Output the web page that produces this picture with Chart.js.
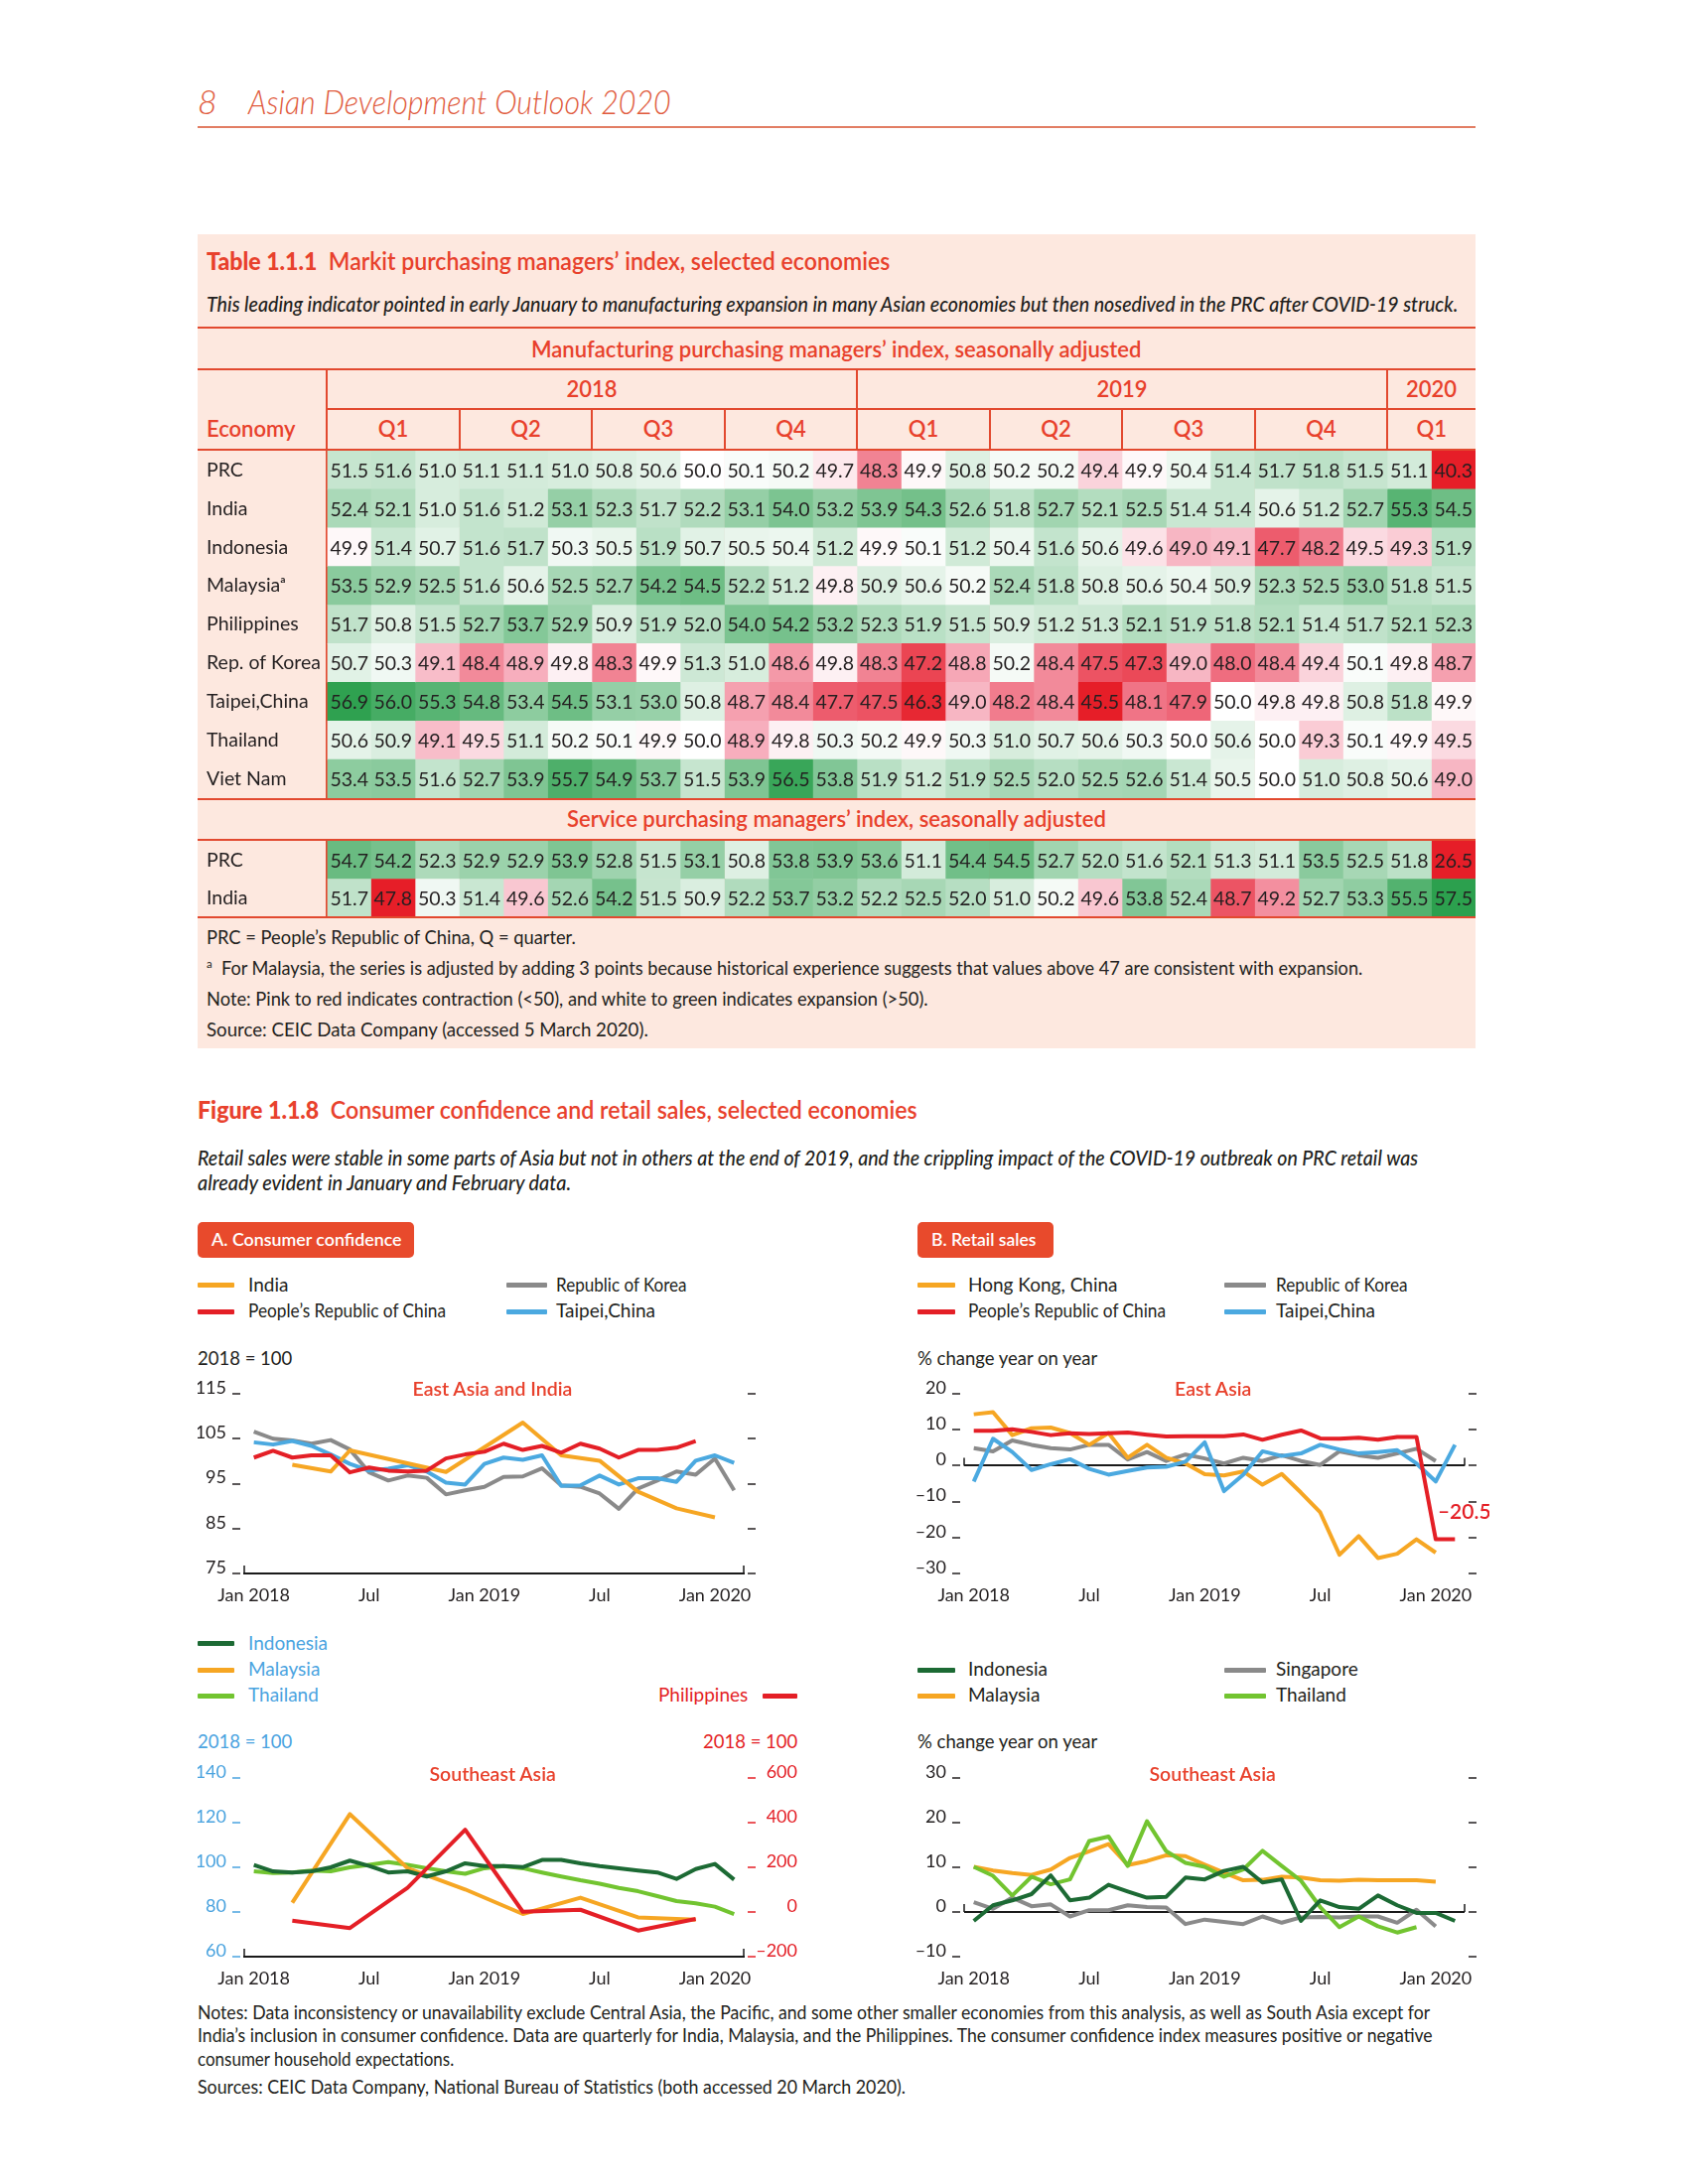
<!DOCTYPE html>
<html>
<head>
<meta charset="utf-8">
<title>Asian Development Outlook 2020 - page 8</title>
<script src="https://cdn.jsdelivr.net/npm/chart.js@4.4.1/dist/chart.umd.min.js"></script>
<style>
  body { margin: 0; background: #fff; }
  #page { position: relative; width: 1700px; height: 2200px; overflow: hidden; font-family: Lato, 'Noto Sans', sans-serif; color: #231f20; }
  .t { position: absolute; white-space: nowrap; line-height: 1; }
  .box { position: absolute; }
  canvas { position: absolute; }
</style>
</head>
<body>
<div id="page">
  <div class="box" style="left:199px;top:236px;width:1287px;height:820px;background:#fde8df"></div>
  <canvas id="pmiMfg" width="1287" height="350" style="left:199px;top:454px"></canvas>
  <canvas id="pmiSvc" width="1287" height="77" style="left:199px;top:847px"></canvas>
  <canvas id="chartA" width="565" height="240" style="left:199px;top:1385px"></canvas>
  <canvas id="chartB" width="595" height="240" style="left:905px;top:1385px"></canvas>
  <canvas id="chartC" width="604" height="240" style="left:199px;top:1772px"></canvas>
  <canvas id="chartD" width="595" height="240" style="left:905px;top:1772px"></canvas>
</div>
<script>
// months shared by the table columns and the four panels
const months = ['Jan 2018', 'Feb 2018', 'Mar 2018', 'Apr 2018', 'May 2018', 'Jun 2018', 'Jul 2018', 'Aug 2018', 'Sep 2018', 'Oct 2018', 'Nov 2018', 'Dec 2018',
  'Jan 2019', 'Feb 2019', 'Mar 2019', 'Apr 2019', 'May 2019', 'Jun 2019', 'Jul 2019', 'Aug 2019', 'Sep 2019', 'Oct 2019', 'Nov 2019', 'Dec 2019',
  'Jan 2020', 'Feb 2020'];

// Table 1.1.1 - manufacturing PMI
const economies = ['PRC', 'India', 'Indonesia', 'Malaysiaᵃ', 'Philippines', 'Rep. of Korea', 'Taipei,China', 'Thailand', 'Viet Nam'];
const pmiPRC = [51.5, 51.6, 51.0, 51.1, 51.1, 51.0, 50.8, 50.6, 50.0, 50.1, 50.2, 49.7, 48.3, 49.9, 50.8, 50.2, 50.2, 49.4, 49.9, 50.4, 51.4, 51.7, 51.8, 51.5, 51.1, 40.3];
const pmiIndia = [52.4, 52.1, 51.0, 51.6, 51.2, 53.1, 52.3, 51.7, 52.2, 53.1, 54.0, 53.2, 53.9, 54.3, 52.6, 51.8, 52.7, 52.1, 52.5, 51.4, 51.4, 50.6, 51.2, 52.7, 55.3, 54.5];
const pmiIndonesia = [49.9, 51.4, 50.7, 51.6, 51.7, 50.3, 50.5, 51.9, 50.7, 50.5, 50.4, 51.2, 49.9, 50.1, 51.2, 50.4, 51.6, 50.6, 49.6, 49.0, 49.1, 47.7, 48.2, 49.5, 49.3, 51.9];
const pmiMalaysia = [53.5, 52.9, 52.5, 51.6, 50.6, 52.5, 52.7, 54.2, 54.5, 52.2, 51.2, 49.8, 50.9, 50.6, 50.2, 52.4, 51.8, 50.8, 50.6, 50.4, 50.9, 52.3, 52.5, 53.0, 51.8, 51.5];
const pmiPhilippines = [51.7, 50.8, 51.5, 52.7, 53.7, 52.9, 50.9, 51.9, 52.0, 54.0, 54.2, 53.2, 52.3, 51.9, 51.5, 50.9, 51.2, 51.3, 52.1, 51.9, 51.8, 52.1, 51.4, 51.7, 52.1, 52.3];
const pmiKorea = [50.7, 50.3, 49.1, 48.4, 48.9, 49.8, 48.3, 49.9, 51.3, 51.0, 48.6, 49.8, 48.3, 47.2, 48.8, 50.2, 48.4, 47.5, 47.3, 49.0, 48.0, 48.4, 49.4, 50.1, 49.8, 48.7];
const pmiTaipei = [56.9, 56.0, 55.3, 54.8, 53.4, 54.5, 53.1, 53.0, 50.8, 48.7, 48.4, 47.7, 47.5, 46.3, 49.0, 48.2, 48.4, 45.5, 48.1, 47.9, 50.0, 49.8, 49.8, 50.8, 51.8, 49.9];
const pmiThailand = [50.6, 50.9, 49.1, 49.5, 51.1, 50.2, 50.1, 49.9, 50.0, 48.9, 49.8, 50.3, 50.2, 49.9, 50.3, 51.0, 50.7, 50.6, 50.3, 50.0, 50.6, 50.0, 49.3, 50.1, 49.9, 49.5];
const pmiVietNam = [53.4, 53.5, 51.6, 52.7, 53.9, 55.7, 54.9, 53.7, 51.5, 53.9, 56.5, 53.8, 51.9, 51.2, 51.9, 52.5, 52.0, 52.5, 52.6, 51.4, 50.5, 50.0, 51.0, 50.8, 50.6, 49.0];

// Table 1.1.1 - services PMI
const serviceEconomies = ['PRC', 'India'];
const svcPRC = [54.7, 54.2, 52.3, 52.9, 52.9, 53.9, 52.8, 51.5, 53.1, 50.8, 53.8, 53.9, 53.6, 51.1, 54.4, 54.5, 52.7, 52.0, 51.6, 52.1, 51.3, 51.1, 53.5, 52.5, 51.8, 26.5];
const svcIndia = [51.7, 47.8, 50.3, 51.4, 49.6, 52.6, 54.2, 51.5, 50.9, 52.2, 53.7, 53.2, 52.2, 52.5, 52.0, 51.0, 50.2, 49.6, 53.8, 52.4, 48.7, 49.2, 52.7, 53.3, 55.5, 57.5];
const quarterEdges = [0, 3, 6, 9, 12, 15, 18, 21, 24];

// A. Consumer confidence, East Asia and India (2018 = 100)
const ccPRC = [100.8, 102.3, 100.8, 101.3, 101.3, 97.5, 98.6, 97.9, 97.7, 97.9, 100.6, 101.5, 102.1, 103.9, 102.5, 103.4, 101.9, 103.9, 102.8, 100.8, 102.5, 102.5, 103.0, 104.5, null, null];
const ccKorea = [106.6, 105.0, 104.6, 103.9, 104.7, 102.6, 97.5, 95.7, 96.8, 96.3, 92.6, 93.5, 94.3, 96.5, 96.6, 98.4, 94.6, 94.3, 92.8, 89.4, 93.9, 95.7, 97.7, 97.0, 100.6, 93.5];
const ccTaipei = [104.2, 103.7, 104.5, 103.4, 101.5, 99.4, 97.9, 98.3, 99.1, 97.7, 95.2, 94.8, 99.4, 100.8, 100.3, 101.3, 94.5, 94.6, 96.8, 94.8, 96.2, 96.2, 95.4, 100.1, 101.3, 99.6];
const ccIndia = [null, null, 99.2, null, 97.7, 102.4, null, null, null, null, 97.6, null, null, null, 108.6, null, 101.3, null, 100.1, null, 93.2, null, 89.5, null, 87.5, null];

// B. Retail sales, East Asia (% change year on year)
const rsHongKong = [14.3, 14.9, 8.5, 10.4, 10.6, 9.1, 5.8, 9.1, 2.2, 5.8, 2.2, 0.6, -2.4, -2.7, -1.6, -5.3, -2.3, -7.5, -13.0, -24.8, -19.6, -25.7, -24.5, -20.5, -24.2, null];
const rsPRC = [9.7, 9.7, 10.1, 9.4, 8.5, 9.0, 8.8, 9.0, 9.2, 8.6, 8.1, 8.2, 8.2, 8.2, 8.7, 7.2, 8.6, 9.8, 7.6, 7.5, 7.8, 7.2, 8.0, 8.0, -20.5, -20.5];
const rsKorea = [4.9, 4.0, 7.0, 5.8, 4.9, 4.5, 5.8, 5.8, 1.7, 3.8, 1.3, 3.1, 2.0, 0.6, 2.2, 1.3, 2.9, 1.3, 0.2, 4.0, 2.9, 2.2, 3.4, 4.7, 1.3, null];
const rsTaipei = [-4.4, 7.5, 3.8, -1.2, 0.4, 1.8, -0.9, -2.5, -1.5, -0.5, -0.3, 1.1, 6.5, -7.1, -2.5, 4.0, 2.7, 3.4, 5.8, 4.5, 3.4, 3.8, 4.3, 0.6, -4.4, 5.8];

// C. Consumer confidence, Southeast Asia (2018 = 100; Philippines on right axis)
const ccIndonesia = [101.1, 98.2, 97.7, 98.2, 100.0, 103.0, 100.6, 97.7, 98.2, 95.9, 98.2, 101.8, 100.6, 100.6, 100.1, 103.3, 103.3, 101.8, 100.6, 99.6, 98.6, 97.7, 94.8, 99.2, 101.5, 94.5];
const ccMalaysia = [null, null, 84.2, null, null, 123.8, null, null, 99.6, null, null, 90.1, null, null, 79.1, null, null, 86.4, null, null, 77.6, null, null, 76.6, null, null];
const ccThailand = [98.2, 97.4, 97.7, 98.6, 98.2, 100.0, 101.1, 102.3, 101.1, 99.6, 98.2, 97.1, 99.6, 100.6, 99.6, 97.7, 95.9, 94.2, 92.7, 90.8, 89.3, 87.1, 84.9, 83.9, 82.4, 79.1];
const ccPhilippines = [null, null, -39, null, null, -72, null, null, 108, null, null, 368, null, null, 1, null, null, 10, null, null, -83, null, null, -31, null, null];

// D. Retail sales, Southeast Asia (% change year on year)
const rsIndonesia = [-2.0, 1.5, 2.6, 4.0, 8.2, 2.6, 3.2, 6.1, 4.6, 3.2, 3.4, 7.7, 7.3, 9.2, 10.1, 6.6, 7.3, -2.0, 2.6, 1.1, 0.7, 3.7, 1.5, -0.2, -0.2, -2.0];
const rsMalaysia = [10.1, 9.3, 8.7, 8.3, 9.5, 12.1, 13.6, 15.2, 10.5, 11.4, 12.7, 12.5, 10.6, 8.8, 7.1, 7.2, 7.9, 7.7, 7.1, 7.0, 7.2, 7.1, 7.1, 7.1, 6.8, null];
const rsSingapore = [2.2, 0.7, 3.2, 1.3, 1.7, -1.0, 0.4, 0.4, 1.5, 1.1, 1.0, -2.7, -1.7, -2.2, -2.7, -1.0, -2.4, -1.2, -1.1, -1.2, -1.0, -1.0, -2.4, 0.5, -3.2, null];
const rsThailand = [10.1, 8.1, 3.7, 7.9, 6.2, 7.3, 15.9, 16.9, 10.3, 20.3, 13.6, 11.0, 10.1, 7.9, 9.5, 13.7, 10.3, 7.0, 1.1, -3.4, -1.0, -3.2, -4.6, -3.4, null, null];

const INK = '#231f20';
const RED = '#e8412c';
const RULE = '#e2492f';
const BLUE = '#4aa3df';
const C_ORANGE = '#f6a623';
const C_RED = '#e41f26';
const C_GRAY = '#8a8a8a';
const C_BLUE = '#4ba9e0';
const C_DKGREEN = '#1c6a34';
const C_LTGREEN = '#72c430';

Chart.defaults.font.family = 'Lato';
Chart.defaults.color = INK;

const page = document.getElementById('page');
const texts = [];

function txt(html, x, y, size, css, w, align) {
  const d = document.createElement('div');
  d.className = 't';
  d.innerHTML = html;
  d.style.fontSize = size + 'px';
  d.style.top = (y - size * 0.56) + 'px';
  Object.assign(d.style, css || {});
  page.appendChild(d);
  texts.push({ d, x, w, align: align || 'l' });
}

function box(x, y, w, h, color, radius) {
  const d = document.createElement('div');
  d.className = 'box';
  Object.assign(d.style, { left: x + 'px', top: y + 'px', width: w + 'px', height: h + 'px', background: color });
  if (radius) d.style.borderRadius = radius + 'px';
  page.appendChild(d);
}

function swatch(x1, x2, y, color) {
  box(x1, y - 2.5, x2 - x1, 5, color, 1);
}

function placeTexts() {
  texts.forEach(({ d, x, w, align }) => {
    const real = d.offsetWidth;
    const width = w || real;
    const left = align === 'c' ? x - width / 2 : align === 'r' ? x - width : x;
    d.style.left = left + 'px';
    if (w) {
      d.style.transformOrigin = '0 50%';
      d.style.transform = `scaleX(${w / real})`;
    }
  });
}

// ---------- page header ----------
const headerStyle = { fontStyle: 'italic', fontWeight: 300, color: '#e05a3c' };
txt('8', 199, 104, 34, headerStyle);
txt('Asian Development Outlook 2020', 250, 104, 34, headerStyle, 426);
box(199, 127, 1287, 2, '#e27e64');

// ---------- table ----------
const redHead = { color: RED, fontWeight: 600 };
txt('<span style="font-weight:900">Table 1.1.1</span>&nbsp; Markit purchasing managers’ index, selected economies', 208, 264, 24, redHead, 688);
txt('This leading indicator pointed in early January to manufacturing expansion in many Asian economies but then nosedived in the PRC after COVID-19 struck.',
  208, 307, 21, { fontStyle: 'italic', fontWeight: 500 }, 1260);
txt('Manufacturing purchasing managers’ index, seasonally adjusted', 842, 353, 22, redHead, 614, 'c');
txt('2018', 596, 393, 22, redHead, null, 'c');
txt('2019', 1130, 393, 22, redHead, null, 'c');
txt('2020', 1441.5, 393, 22, redHead, null, 'c');
txt('Economy', 208, 433, 22, redHead);
['Q1', 'Q2', 'Q3', 'Q4', 'Q1', 'Q2', 'Q3', 'Q4', 'Q1'].forEach((q, k) => {
  const centre = k < 8 ? 329 + (3 * k + 1.5) * 44.5 : 1441.5;
  txt(q, centre, 433, 22, redHead, null, 'c');
});
txt('Service purchasing managers’ index, seasonally adjusted', 842, 826, 22, redHead, 543, 'c');

[330, 372, 453, 805, 846, 924].forEach(y => box(199, y - 1, 1287, 2, RULE));
box(329, 411, 1157, 2, RULE);
[329, 863, 1397].forEach(x => box(x - 1, 372, 2, 81, RULE));
[462.5, 596, 729.5, 996.5, 1130, 1263.5].forEach(x => box(x - 1, 412, 2, 41, RULE));

txt('PRC = People’s Republic of China, Q = quarter.', 208, 944.5, 19, {}, 372);
txt('<sup style="font-size:12px">a</sup>&nbsp; For Malaysia, the series is adjusted by adding 3 points because historical experience suggests that values above 47 are consistent with expansion.', 208, 976, 19, {}, 1164);
txt('Note: Pink to red indicates contraction (&lt;50), and white to green indicates expansion (&gt;50).', 208, 1007, 19, {}, 727);
txt('Source: CEIC Data Company (accessed 5 March 2020).', 208, 1037.5, 19, {}, 445);

// ---------- figure ----------
txt('<span style="font-weight:900">Figure 1.1.8</span>&nbsp; Consumer confidence and retail sales, selected economies', 199, 1119.5, 24, redHead, 725);
const italicSub = { fontStyle: 'italic', fontWeight: 500 };
txt('Retail sales were stable in some parts of Asia but not in others at the end of 2019, and the crippling impact of the COVID-19 outbreak on PRC retail was', 199, 1167, 21, italicSub, 1229);
txt('already evident in January and February data.', 199, 1192, 21, italicSub, 376);

box(199, 1231, 218, 36, '#e84a2c', 5);
box(924, 1231, 137, 36, '#e84a2c', 5);
txt('A. Consumer confidence', 212.5, 1249, 18, { color: '#fff', fontWeight: 600 }, 192);
txt('B. Retail sales', 937.5, 1249, 18, { color: '#fff', fontWeight: 600 }, 105);

// legends A and B
swatch(199, 236, 1294.5, C_ORANGE); txt('India', 250, 1294.5, 19);
swatch(199, 236, 1321, C_RED); txt('People’s Republic of China', 250, 1321, 19, {}, 199);
swatch(510, 551, 1294.5, C_GRAY); txt('Republic of Korea', 560, 1294.5, 19, {}, 132);
swatch(510, 551, 1321, C_BLUE); txt('Taipei,China', 560, 1321, 19);
swatch(924, 962, 1294.5, C_ORANGE); txt('Hong Kong, China', 975, 1294.5, 19);
swatch(924, 962, 1321, C_RED); txt('People’s Republic of China', 975, 1321, 19, {}, 199);
swatch(1233, 1275, 1294.5, C_GRAY); txt('Republic of Korea', 1285, 1294.5, 19, {}, 133);
swatch(1233, 1275, 1321, C_BLUE); txt('Taipei,China', 1285, 1321, 19);

txt('2018 = 100', 199, 1369.5, 18.5);
txt('% change year on year', 924, 1369.5, 18.5);
const panelTitle = { color: RED, fontWeight: 600 };
txt('East Asia and India', 496, 1400, 19.5, panelTitle, null, 'c');
txt('East Asia', 1221.5, 1400, 19.5, panelTitle, null, 'c');

// legends C and D
swatch(199, 236, 1655.6, C_DKGREEN); txt('Indonesia', 250, 1655.6, 19, { color: BLUE });
swatch(199, 236, 1682, C_ORANGE); txt('Malaysia', 250, 1682, 19, { color: BLUE });
swatch(199, 236, 1708, C_LTGREEN); txt('Thailand', 250, 1708, 19, { color: BLUE });
txt('Philippines', 753, 1708, 19, { color: C_RED }, null, 'r');
swatch(768, 803, 1708, C_RED);
swatch(924, 962, 1682, C_DKGREEN); txt('Indonesia', 975, 1682, 19);
swatch(924, 962, 1708, C_ORANGE); txt('Malaysia', 975, 1708, 19);
swatch(1233, 1275, 1682, C_GRAY); txt('Singapore', 1285, 1682, 19);
swatch(1233, 1275, 1708, C_LTGREEN); txt('Thailand', 1285, 1708, 19);

txt('2018 = 100', 199, 1755.6, 18.5, { color: BLUE });
txt('2018 = 100', 803, 1755.6, 18.5, { color: C_RED }, null, 'r');
txt('% change year on year', 924, 1755.6, 18.5);
txt('Southeast Asia', 496, 1787.5, 19.5, panelTitle, null, 'c');
txt('Southeast Asia', 1221, 1787.5, 19.5, panelTitle, null, 'c');

txt('Notes: Data inconsistency or unavailability exclude Central Asia, the Pacific, and some other smaller economies from this analysis, as well as South Asia except for', 199, 2028, 18.5, {}, 1241);
txt('India’s inclusion in consumer confidence. Data are quarterly for India, Malaysia, and the Philippines. The consumer confidence index measures positive or negative', 199, 2051.4, 18.5, {}, 1244);
txt('consumer household expectations.', 199, 2075, 18.5, {}, 258);
txt('Sources: CEIC Data Company, National Bureau of Statistics (both accessed 20 March 2020).', 199, 2103, 18.5, {}, 713);

placeTexts();

// ---------- heatmap (table cells) ----------
function mix(a, b, t) { return a.map((c, i) => Math.round(c + (b[i] - c) * t)); }

// white -> pink -> red below 50, white -> green above 50
const redStops = [[255, 255, 255], [247, 178, 192], [238, 102, 120], [233, 52, 64], [230, 30, 40]];
function cellColor(v, redSpan) {
  if (v >= 50) {
    const t = Math.pow(Math.min(1, (v - 50) / 7), 0.85);
    return `rgb(${mix([255, 255, 255], [44, 160, 78], t).join(',')})`;
  }
  const t = Math.min(1, (50 - v) / redSpan) * (redStops.length - 1);
  const k = Math.min(redStops.length - 2, Math.floor(t));
  return `rgb(${mix(redStops[k], redStops[k + 1], t - k).join(',')})`;
}

const cellText = {
  id: 'cellText',
  afterDatasetsDraw(chart) {
    const { ctx } = chart;
    ctx.save();
    ctx.font = '19.5px Lato';
    ctx.fillStyle = INK;
    ctx.textAlign = 'center';
    ctx.textBaseline = 'middle';
    chart.data.datasets.forEach((ds, i) => {
      chart.getDatasetMeta(i).data.forEach((bar, k) => {
        const p = bar.getCenterPoint();
        ctx.fillText(ds.values[k].toFixed(1), p.x, p.y + 1);
      });
    });
    ctx.restore();
  },
};

function heatmap(id, rowNames, rows, spanOf) {
  const spans = rows.map(spanOf);
  const datasets = months.map((m, j) => ({
    label: m,
    data: rows.map(() => [j, j + 1]),
    values: rows.map(r => r[j]),
    backgroundColor: rows.map((r, k) => cellColor(r[j], spans[k])),
    grouped: false,
    barPercentage: 1,
    categoryPercentage: 1,
    borderWidth: 0,
  }));
  return new Chart(document.getElementById(id), {
    type: 'bar',
    data: { labels: rowNames, datasets },
    options: {
      indexAxis: 'y',
      responsive: false,
      animation: false,
      events: [],
      layout: { padding: { left: 9, top: 0, right: 0, bottom: 0 } },
      plugins: { legend: { display: false }, tooltip: { enabled: false } },
      scales: {
        x: {
          type: 'linear', min: 0, max: months.length, z: 1,
          afterBuildTicks: s => { s.ticks = quarterEdges.map(value => ({ value })); },
          ticks: { display: false },
          border: { display: false },
          grid: { color: RULE, lineWidth: 2, drawTicks: false },
          afterFit: s => { s.height = 0; s.paddingLeft = 0; s.paddingRight = 0; },
        },
        y: {
          grid: { display: false },
          border: { display: false },
          ticks: { crossAlign: 'far', color: INK, font: { size: 19.5 }, padding: 0 },
          afterFit: s => { s.width = 121; s.paddingTop = 0; s.paddingBottom = 0; },
        },
      },
    },
    plugins: [cellText],
  });
}

heatmap('pmiMfg', economies, [pmiPRC, pmiIndia, pmiIndonesia, pmiMalaysia, pmiPhilippines, pmiKorea, pmiTaipei, pmiThailand, pmiVietNam], () => 4.2);
heatmap('pmiSvc', serviceEconomies, [svcPRC, svcIndia], r => 50 - Math.min(...r));

// ---------- line panels ----------
const tickFont = { size: 18 };
const fmt = v => (v < 0 ? '\u2013' + Math.abs(v) : String(v));
const monthTick = m => (m.startsWith('Jan') ? m : m.startsWith('Jul') ? 'Jul' : '');

function monthAxis(withBorder, height) {
  return {
    type: 'category',
    offset: true,
    grid: { display: true, drawOnChartArea: false, drawTicks: false },
    border: { display: withBorder, color: '#1a1a1a', width: 2 },
    ticks: { autoSkip: false, maxRotation: 0, padding: 11, font: tickFont, color: INK, callback: (v, i) => monthTick(months[i]) },
    afterFit: s => { s.height = height; s.paddingLeft = 0; s.paddingRight = 0; },
  };
}

function sideAxis(min, max, step, position, width, color, showLabels, zeroLine) {
  return {
    type: 'linear',
    position, min, max,
    ticks: {
      stepSize: step, color, font: tickFont, padding: 6, labelOffset: -6,
      crossAlign: position === 'right' ? 'far' : 'near',
      callback: v => (showLabels ? fmt(v) : ''),
    },
    grid: {
      drawOnChartArea: !!zeroLine,
      color: zeroLine ? (c => (c.tick && c.tick.value === 0 ? '#1a1a1a' : 'rgba(0,0,0,0)')) : color,
      lineWidth: 2,
      tickColor: color, tickLength: 12, tickWidth: 1.5,
      tickBorderDash: [8, 4], tickBorderDashOffset: position === 'right' ? 8 : 0,
    },
    border: { display: false },
    afterFit: s => { s.width = width; s.paddingTop = 0; s.paddingBottom = 0; },
  };
}

function line(label, data, color, extra) {
  return Object.assign({
    label, data, borderColor: color, backgroundColor: color, borderWidth: 4,
    pointRadius: 0, tension: 0, spanGaps: true, fill: false, borderJoinStyle: 'round',
  }, extra || {});
}

const endTicks = {
  id: 'endTicks',
  afterDraw(chart, args, o) {
    const { ctx, chartArea: a, scales } = chart;
    const y = o.at === undefined ? a.bottom : scales.y.getPixelForValue(o.at);
    ctx.save();
    ctx.strokeStyle = '#1a1a1a';
    ctx.lineWidth = 1.5;
    [a.left, a.right].forEach(x => {
      ctx.beginPath();
      ctx.moveTo(x, y);
      ctx.lineTo(x, y - 8);
      ctx.stroke();
    });
    ctx.restore();
  },
};

const endLabel = {
  id: 'endLabel',
  afterDatasetsDraw(chart, args, o) {
    if (o.dataset === undefined) return;
    const v = chart.data.datasets[o.dataset].data[o.index];
    const pt = chart.getDatasetMeta(o.dataset).data[o.index];
    const { ctx } = chart;
    ctx.save();
    ctx.font = '600 21px Lato';
    ctx.fillStyle = o.color;
    ctx.textAlign = 'left';
    ctx.textBaseline = 'middle';
    ctx.fillText(fmt(v), pt.x + 2, chart.scales.y.getPixelForValue(v) - 27);
    ctx.restore();
  },
};

function options(scales, pluginOpts) {
  return {
    responsive: false,
    animation: false,
    events: [],
    layout: { padding: { top: 19, left: 0, right: 0, bottom: 0 } },
    plugins: Object.assign({ legend: { display: false }, tooltip: { enabled: false } }, pluginOpts || {}),
    scales,
  };
}

new Chart(document.getElementById('chartA'), {
  type: 'line',
  data: {
    labels: months,
    datasets: [
      line('People’s Republic of China', ccPRC, C_RED),
      line('India', ccIndia, C_ORANGE),
      line('Taipei,China', ccTaipei, C_BLUE),
      line('Republic of Korea', ccKorea, C_GRAY),
    ],
  },
  options: options({
    x: monthAxis(true, 40),
    y: sideAxis(75, 115, 10, 'left', 47, INK, true),
    y2: sideAxis(75, 115, 10, 'right', 15, INK, false),
  }),
  plugins: [endTicks],
});

new Chart(document.getElementById('chartB'), {
  type: 'line',
  data: {
    labels: months,
    datasets: [
      line('People’s Republic of China', rsPRC, C_RED),
      line('Taipei,China', rsTaipei, C_BLUE),
      line('Hong Kong, China', rsHongKong, C_ORANGE),
      line('Republic of Korea', rsKorea, C_GRAY),
    ],
  },
  options: options({
    x: monthAxis(false, 40),
    y: sideAxis(-30, 20, 10, 'left', 66, INK, true, true),
    y2: sideAxis(-30, 20, 10, 'right', 25, INK, false),
  }, { endTicks: { at: 0 }, endLabel: { dataset: 0, index: 24, color: C_RED } }),
  plugins: [endTicks, endLabel],
});

new Chart(document.getElementById('chartC'), {
  type: 'line',
  data: {
    labels: months,
    datasets: [
      line('Philippines', ccPhilippines, C_RED, { yAxisID: 'y1' }),
      line('Indonesia', ccIndonesia, C_DKGREEN),
      line('Malaysia', ccMalaysia, C_ORANGE),
      line('Thailand', ccThailand, C_LTGREEN),
    ],
  },
  options: options({
    x: monthAxis(true, 41),
    y: sideAxis(60, 140, 20, 'left', 47, BLUE, true),
    y1: sideAxis(-200, 600, 200, 'right', 54, C_RED, true),
  }),
  plugins: [endTicks],
});

new Chart(document.getElementById('chartD'), {
  type: 'line',
  data: {
    labels: months,
    datasets: [
      line('Indonesia', rsIndonesia, C_DKGREEN),
      line('Thailand', rsThailand, C_LTGREEN),
      line('Malaysia', rsMalaysia, C_ORANGE),
      line('Singapore', rsSingapore, C_GRAY),
    ],
  },
  options: options({
    x: monthAxis(false, 41),
    y: sideAxis(-10, 30, 10, 'left', 66, INK, true, true),
    y2: sideAxis(-10, 30, 10, 'right', 25, INK, false),
  }, { endTicks: { at: 0 } }),
  plugins: [endTicks],
});
</script>
</body>
</html>
